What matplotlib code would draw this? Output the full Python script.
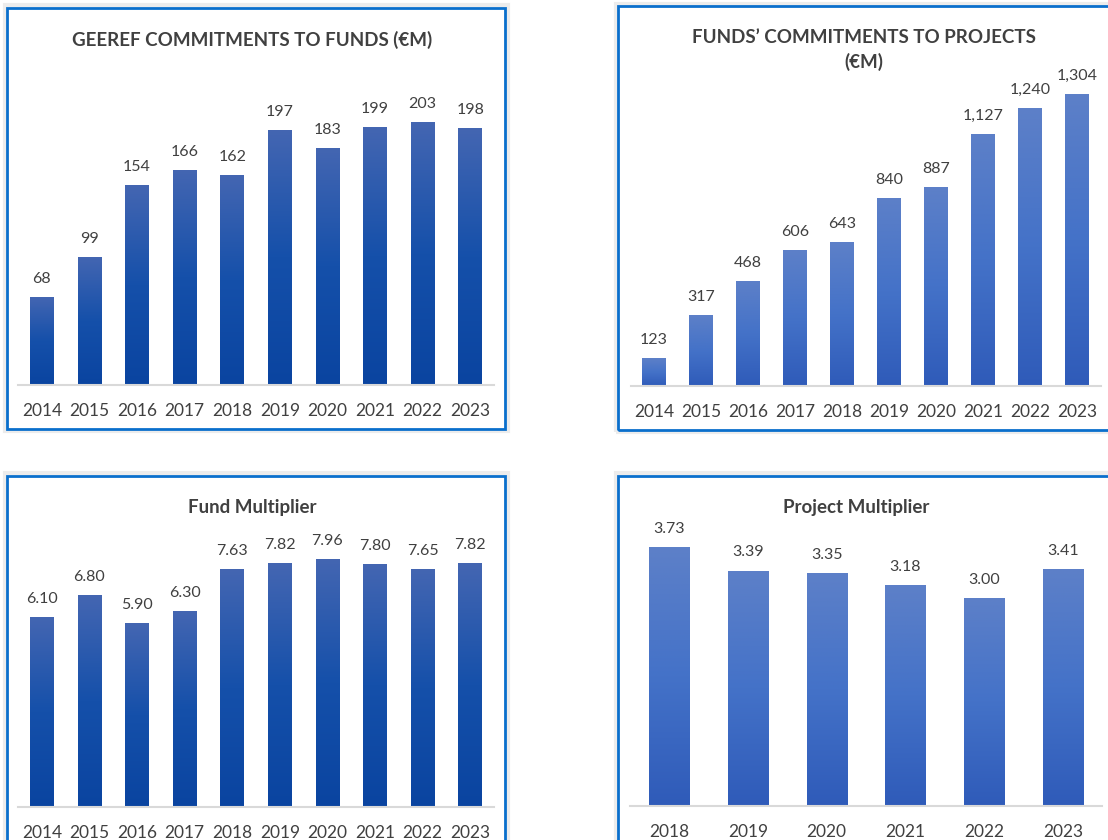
import numpy as np
import matplotlib
matplotlib.use("Agg")
import matplotlib.pyplot as plt
from matplotlib.patches import Rectangle
from matplotlib.colors import LinearSegmentedColormap

plt.rcParams['font.family'] = ['Lato', 'DejaVu Sans']

# data
years_long = ["2014", "2015", "2016", "2017", "2018", "2019", "2020", "2021", "2022", "2023"]
years_short = ["2018", "2019", "2020", "2021", "2022", "2023"]
geeref_funds = [68, 99, 154, 166, 162, 197, 183, 199, 203, 198]
funds_projects = [123, 317, 468, 606, 643, 840, 887, 1127, 1240, 1304]
fund_mult = [6.10, 6.80, 5.90, 6.30, 7.63, 7.82, 7.96, 7.80, 7.65, 7.82]
project_mult = [3.73, 3.39, 3.35, 3.18, 3.00, 3.41]

W, H = 1108, 840
fig = plt.figure(figsize=(W / 100, H / 100), dpi=100)
fig.patch.set_facecolor("white")

TXT = "#404040"
dark = LinearSegmentedColormap.from_list("dark", ["#0a44a0", "#1550aa", "#4466b2"])
light = LinearSegmentedColormap.from_list("light", ["#2f5bb9", "#4472c8", "#5d80c8"])


def frame(x0, y0, x1, y1):
    # light grey halo then blue border, pixel coords from the top left
    for pad, col, lw in [(2.5, "#ececec", 3), (0, "#0a6fcc", 2)]:
        r = Rectangle(((x0 - pad) / W, 1 - (y1 + pad) / H),
                      (x1 - x0 + 2 * pad) / W, (y1 - y0 + 2 * pad) / H,
                      transform=fig.transFigure, fill=False, edgecolor=col,
                      linewidth=lw, zorder=0)
        fig.add_artist(r)


def panel(labels, values, fmt, cmap, left, right, base, top, scale, width,
          title, tx, ty):
    ax = fig.add_axes([left / W, 1 - base / H, (right - left) / W, (base - top) / H])
    x = np.arange(len(values))
    bars = ax.bar(x, values, width=width, color="none", zorder=2)
    grad = np.linspace(0, 1, 256).reshape(-1, 1)
    for b in bars:
        x0 = b.get_x()
        im = ax.imshow(grad, cmap=cmap, origin="lower", aspect="auto",
                       extent=(x0, x0 + b.get_width(), 0, b.get_height()), zorder=2)
        im.set_clip_path(b)
    for xi, v in zip(x, values):
        ax.annotate(fmt(v), (xi, v), xytext=(0, 8), textcoords="offset points",
                    ha="center", va="bottom", fontsize=11.5, color=TXT)
    ax.set_xlim(-0.5, len(values) - 0.5)
    ax.set_ylim(0, (base - top) / scale)
    ax.set_xticks(x)
    ax.set_xticklabels(labels, fontsize=12.5, color=TXT)
    ax.tick_params(axis="x", length=0, pad=13)
    ax.set_yticks([])
    for s in ["top", "left", "right"]:
        ax.spines[s].set_visible(False)
    ax.spines["bottom"].set_color("#d9d9d9")
    ax.spines["bottom"].set_linewidth(1.5)
    ax.set_facecolor("none")
    fig.text(tx / W, 1 - ty / H, title, ha="center", va="center",
             fontsize=13.5, fontweight="bold", color=TXT, linespacing=1.45)
    return ax


frame(7, 8, 505, 429)
frame(618, 6, 1120, 430)
frame(7, 476, 505, 860)
frame(618, 476, 1120, 860)

panel(years_long, geeref_funds, lambda v: f"{v:d}", dark,
      18, 494, 385, 60, 263 / 203, 0.5,
      "GEEREF COMMITMENTS TO FUNDS (€M)", 252, 40)
panel(years_long, funds_projects, lambda v: f"{v:,d}", light,
      630.5, 1100.5, 386, 60, 292 / 1304, 0.5,
      "FUNDS\u2019 COMMITMENTS TO PROJECTS\n(\u20acM)", 864, 50)
panel(years_long, fund_mult, lambda v: f"{v:.2f}", dark,
      18, 494, 807, 520, 248 / 7.96, 0.5,
      "Fund Multiplier", 252, 507)
panel(years_short, project_mult, lambda v: f"{v:.2f}", light,
      629.6, 1102.4, 806, 520, 259 / 3.73, 0.51,
      "Project Multiplier", 856, 508)

fig.savefig("out.png", dpi=100)
